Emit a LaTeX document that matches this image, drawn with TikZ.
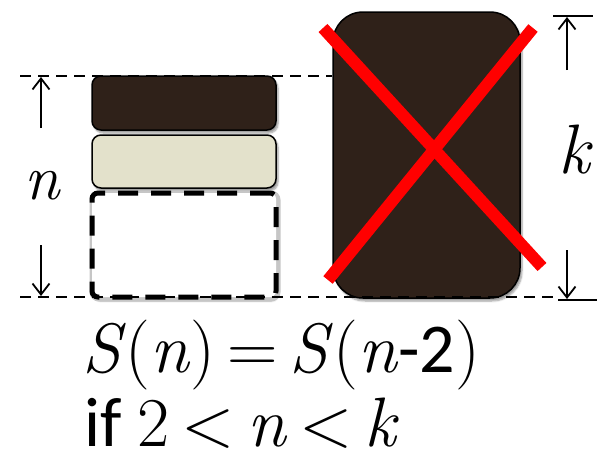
\documentclass[tikz,border=0pt]{standalone}
\usepackage{fontspec}
\newfontfamily\calfont{Carlito}
\usetikzlibrary{arrows.meta,shadows.blur}
\definecolor{darkbrown}{HTML}{2F2119}
\definecolor{cream}{HTML}{E3E1CB}
\definecolor{redx}{HTML}{FF0000}
\newcommand{\gapsp}{\hspace{12pt}}
\tikzset{
  blockbox/.style={draw=black, line width=1.5pt, rounded corners=9pt, minimum width=184pt, inner sep=0pt,
    blur shadow={shadow xshift=2pt, shadow yshift=-3pt, shadow blur steps=6, shadow opacity=40}},
  guide/.style={line width=1.8pt, dash pattern=on 11pt off 7pt},
  solidguide/.style={line width=1.8pt},
  dimarrow/.style={line width=1.8pt, -{Straight Barb[length=11pt,width=17pt,line width=1.8pt]}},
  crossline/.style={draw=redx, line width=12pt},
  bigtext/.style={font=\fontsize{70}{78}\selectfont, inner sep=0pt, text depth=2pt}
}
\begin{document}
\begin{tikzpicture}[x=1pt,y=-1pt]
\useasboundingbox (0,0) rectangle (597,458);
% guides
\coordinate (tl) at (20,76);
\coordinate (bl) at (20,297);
\coordinate (br) at (560,297);
% left stack
\node[blockbox, fill=darkbrown, minimum height=54pt] (b1) at (184,103) {};
\node[blockbox, fill=cream, minimum height=53pt] (b2) at (184,161.5) {};
\node[draw=gray!45, line width=7pt, rounded corners=6pt, minimum width=184pt, minimum height=104pt, inner sep=0pt,
  blur shadow={shadow xshift=1pt, shadow yshift=-3pt, shadow blur steps=8, shadow opacity=25}] (b3s) at (185,246) {};
\node[draw=black, fill=white, line width=5pt, dash pattern=on 20pt off 13pt, rounded corners=6pt, minimum width=184pt, minimum height=104pt, inner sep=0pt] (b3) at (184,245) {};
% big block
\node[draw=black, line width=1.5pt, fill=darkbrown, rounded corners=30pt, minimum width=187pt, minimum height=286pt, inner sep=0pt,
  blur shadow={shadow xshift=2pt, shadow yshift=-3pt, shadow blur steps=6, shadow opacity=40}] (big) at (426.5,155) {};
% dashed guides
\draw[guide] (tl) -- (big.west |- tl);
\draw[guide] (bl) -- (br);
% red cross
\coordinate (x1) at (323,28);
\coordinate (x2) at (542,267);
\coordinate (x3) at (533,28);
\coordinate (x4) at (328,280);
\draw[crossline] (x1) -- (x2);
\draw[crossline] (x3) -- (x4);
% n dimension
\coordinate (na) at (41,128);
\coordinate (nb) at (41,245);
\draw[dimarrow] (na) -- (41,77);
\draw[dimarrow] (nb) -- (41,296);
\node[inner sep=0pt, font=\fontsize{64}{70}\selectfont\itshape] (nlab) at (42,186) {n};
% k dimension
\coordinate (kt1) at (553,16);
\coordinate (kt2) at (593,16);
\coordinate (kb1) at (558,300);
\coordinate (kb2) at (597,300);
\draw[solidguide] (kt1) -- (kt2);
\draw[solidguide] (kb1) -- (kb2);
\coordinate (ka) at (567,70);
\coordinate (kb) at (567,250);
\draw[dimarrow] (ka) -- (567,17);
\draw[dimarrow] (kb) -- (567,299);
\node[inner sep=0pt, font=\fontsize{70}{76}\selectfont\itshape] (klab) at (574,150) {k};
% formula
\node[bigtext, anchor=base west] (eq) at (82,372) {\textit{S}(\textit{n})\gapsp=\gapsp\textit{S}(\textit{n}{\calfont -2})};
\node[bigtext, anchor=base west] (cond) at (84,446) {{\calfont if}\hspace{16pt}2\gapsp{<}\gapsp\textit{n}\gapsp{<}\gapsp\textit{k}};
\end{tikzpicture}
\end{document}
